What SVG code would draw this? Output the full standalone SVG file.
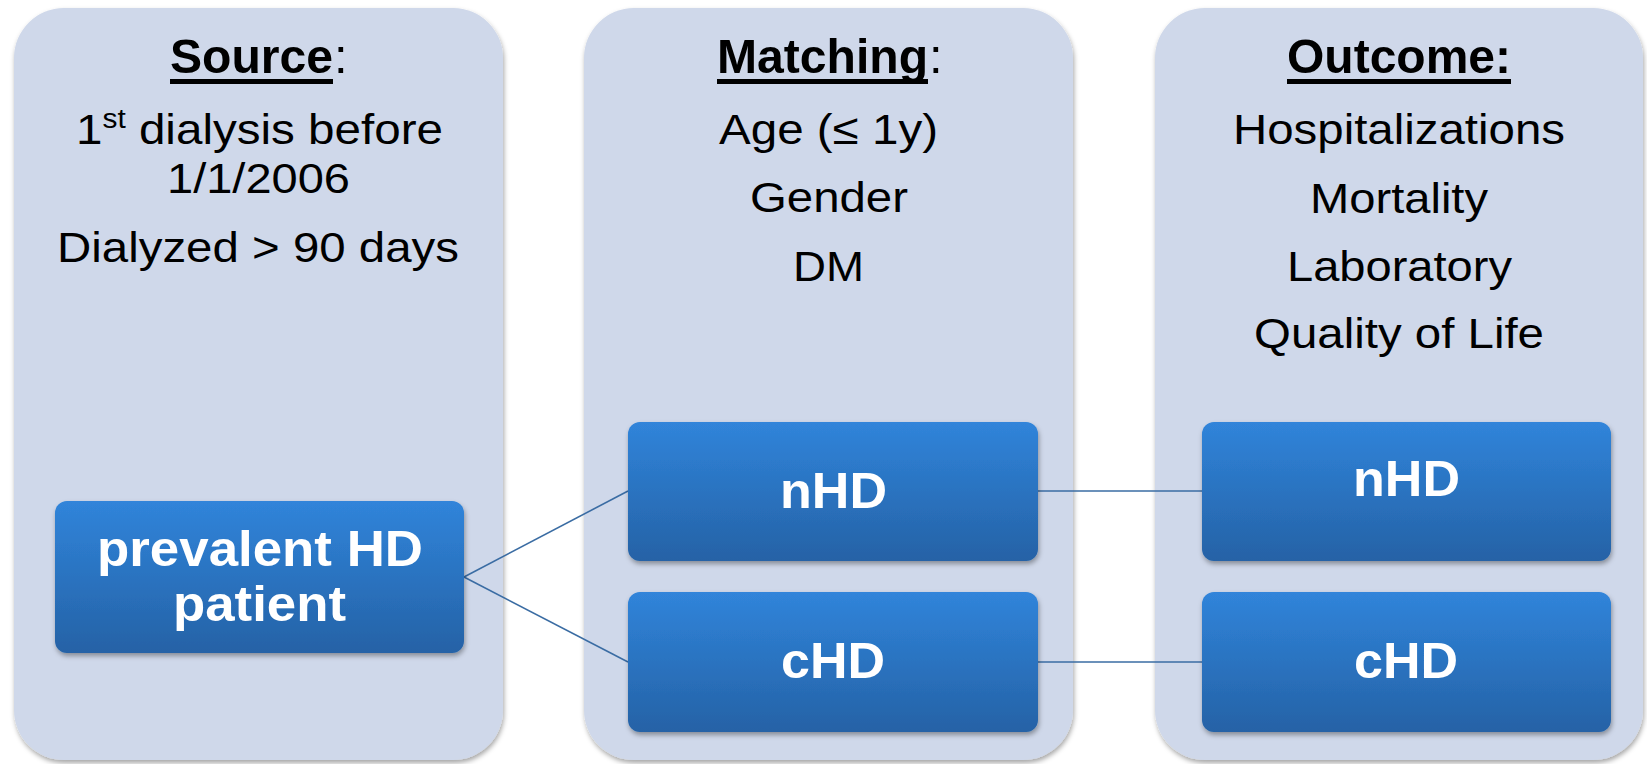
<svg xmlns="http://www.w3.org/2000/svg" width="1647" height="764" viewBox="0 0 1647 764">
<defs>
<linearGradient id="boxGrad" x1="0" y1="0" x2="0" y2="1">
<stop offset="0" stop-color="#3084DA"/>
<stop offset="1" stop-color="#2562A6"/>
</linearGradient>
<filter id="shadow" x="-10%" y="-10%" width="120%" height="125%">
<feDropShadow dx="1" dy="3" stdDeviation="2.5" flood-color="#000" flood-opacity="0.35"/>
</filter>
</defs>
<style>
.panel{fill:#CFD8EA;filter:url(#shadow)}
.box{fill:url(#boxGrad);filter:url(#shadow)}
.hdr{font-family:"Liberation Sans",Arial,sans-serif;font-size:49px;font-weight:bold;fill:#000;text-anchor:middle}
.hs{font-family:"Liberation Sans",Arial,sans-serif;font-size:49px;fill:#000;text-anchor:start}
.ul{fill:#000}
.body{font-family:"Liberation Sans",Arial,sans-serif;font-size:43px;fill:#000;text-anchor:middle}
.lbl{font-family:"Liberation Sans",Arial,sans-serif;font-size:50px;font-weight:bold;fill:#fff;text-anchor:middle}
.conn{stroke:#3A6CA3;stroke-width:1.6;fill:none}
</style>
<g id="panel-source">
<rect class="panel" x="14" y="8" width="489" height="752" rx="50"/>
<text class="hdr" x="251.5" y="73" textLength="163" lengthAdjust="spacingAndGlyphs">Source</text>
<text class="hs" x="334" y="73">:</text>
<rect class="ul" x="170" y="79" width="163" height="5"/>
<text class="body" x="259.5" y="144" textLength="367" lengthAdjust="spacingAndGlyphs">1<tspan font-size="27" dy="-16">st</tspan><tspan dy="16"> dialysis before</tspan></text>
<text class="body" x="258.5" y="193" textLength="183" lengthAdjust="spacingAndGlyphs">1/1/2006</text>
<text class="body" x="258" y="262" textLength="402" lengthAdjust="spacingAndGlyphs">Dialyzed &gt; 90 days</text>
</g>
<g id="panel-matching">
<rect class="panel" x="584" y="8" width="489" height="752" rx="50"/>
<text class="hdr" x="822.5" y="73" textLength="211" lengthAdjust="spacingAndGlyphs">Matching</text>
<text class="hs" x="929" y="73">:</text>
<rect class="ul" x="717" y="79" width="211" height="5"/>
<text class="body" x="828.5" y="144" textLength="219" lengthAdjust="spacingAndGlyphs">Age (≤ 1y)</text>
<text class="body" x="829" y="212" textLength="158" lengthAdjust="spacingAndGlyphs">Gender</text>
<text class="body" x="828.5" y="281" textLength="71" lengthAdjust="spacingAndGlyphs">DM</text>
</g>
<g id="panel-outcome">
<rect class="panel" x="1155" y="8" width="488" height="752" rx="50"/>
<text class="hdr" x="1399" y="73" textLength="224" lengthAdjust="spacingAndGlyphs">Outcome:</text>
<rect class="ul" x="1287" y="79" width="224" height="5"/>
<text class="body" x="1399" y="144" textLength="332" lengthAdjust="spacingAndGlyphs">Hospitalizations</text>
<text class="body" x="1399" y="213" textLength="178" lengthAdjust="spacingAndGlyphs">Mortality</text>
<text class="body" x="1399.5" y="281" textLength="225" lengthAdjust="spacingAndGlyphs">Laboratory</text>
<text class="body" x="1399" y="348" textLength="290" lengthAdjust="spacingAndGlyphs">Quality of Life</text>
</g>
<g id="connectors">
<line class="conn" x1="464" y1="577" x2="628" y2="491"/>
<line class="conn" x1="464" y1="577" x2="628" y2="662"/>
<line class="conn" x1="1038" y1="491" x2="1202" y2="491"/>
<line class="conn" x1="1038" y1="662" x2="1202" y2="662"/>
</g>
<g id="node-prevalent">
<rect class="box" x="55" y="501" width="409" height="152" rx="12"/>
<text class="lbl" x="260" y="566" textLength="326" lengthAdjust="spacingAndGlyphs">prevalent HD</text>
<text class="lbl" x="259.5" y="621" textLength="173" lengthAdjust="spacingAndGlyphs">patient</text>
</g>
<g id="node-match-nhd">
<rect class="box" x="628" y="422" width="410" height="139" rx="12"/>
<text class="lbl" x="833.5" y="508" textLength="107" lengthAdjust="spacingAndGlyphs">nHD</text>
</g>
<g id="node-match-chd">
<rect class="box" x="628" y="592" width="410" height="140" rx="12"/>
<text class="lbl" x="833" y="678" textLength="104" lengthAdjust="spacingAndGlyphs">cHD</text>
</g>
<g id="node-out-nhd">
<rect class="box" x="1202" y="422" width="409" height="139" rx="12"/>
<text class="lbl" x="1406.5" y="496" textLength="107" lengthAdjust="spacingAndGlyphs">nHD</text>
</g>
<g id="node-out-chd">
<rect class="box" x="1202" y="592" width="409" height="140" rx="12"/>
<text class="lbl" x="1406" y="678" textLength="104" lengthAdjust="spacingAndGlyphs">cHD</text>
</g>
</svg>
